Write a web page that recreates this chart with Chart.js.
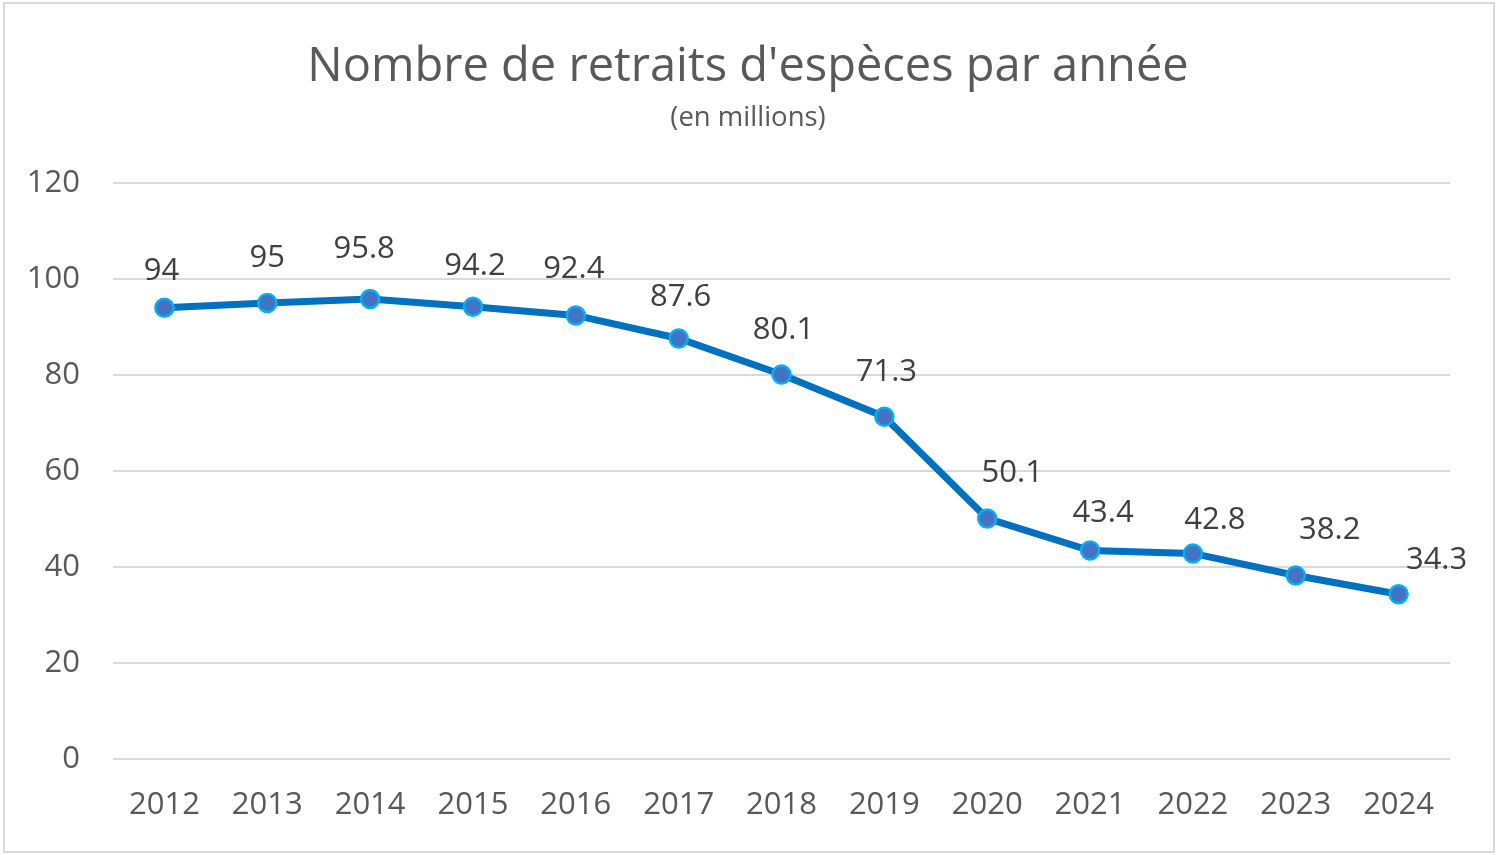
<!DOCTYPE html>
<html lang="fr">
<head>
<meta charset="utf-8">
<title>Nombre de retraits d'espèces par année</title>
<script src="https://cdn.jsdelivr.net/npm/chart.js@4.4.1/dist/chart.umd.min.js"></script>
<style>
  html, body { margin: 0; padding: 0; background: #fff; }
  #wrap { position: absolute; left: 0; top: 0; width: 1500px; height: 855px; }
</style>
</head>
<body>
<div id="wrap"><canvas id="retraitsChart" width="1500" height="855"></canvas></div>
<script>
// Data
const years = ['2012', '2013', '2014', '2015', '2016', '2017', '2018', '2019', '2020', '2021', '2022', '2023', '2024'];
const withdrawals = [94, 95, 95.8, 94.2, 92.4, 87.6, 80.1, 71.3, 50.1, 43.4, 42.8, 38.2, 34.3];
const yTicks = [0, 20, 40, 60, 80, 100, 120];

const titleText = "Nombre de retraits d'espèces par année";
const subtitleText = '(en millions)';

// label nudges (px) so value labels sit like the original
const labelNudgeX = [-3, 0, -6, 2, -2, 2, 2, 2, 25, 13, 22, 34, 38];
const labelNudgeY = [-37, -45, -50, -41, -46, -41, -44, -45, -45, -37, -33, -45, -34];

/* White background, thin frame, and title centred on the whole canvas */
const framePlugin = {
  id: 'frame',
  beforeDraw(chart) {
    const c = chart.ctx;
    c.save();
    c.fillStyle = '#ffffff';
    c.fillRect(0, 0, chart.width, chart.height);
    c.strokeStyle = '#d9d9d9';
    c.lineWidth = 2;
    c.strokeRect(4, 3, chart.width - 10, chart.height - 6);

    c.fillStyle = '#595959';
    c.textAlign = 'center';
    c.textBaseline = 'middle';
    c.font = '47px "Open Sans", sans-serif';
    c.fillText(titleText, 748, 68);
    c.font = '27.5px "Open Sans", sans-serif';
    c.fillText(subtitleText, 748, 118);
    c.restore();
  },
};

/* Value labels above points */
const valueLabels = {
  id: 'valueLabels',
  afterDatasetsDraw(chart) {
    const c = chart.ctx;
    const meta = chart.getDatasetMeta(0);
    c.save();
    c.font = '31px "Open Sans", sans-serif';
    c.fillStyle = '#404040';
    c.textAlign = 'center';
    c.textBaseline = 'middle';
    meta.data.forEach((pt, i) => {
      c.fillText(String(withdrawals[i]), pt.x + labelNudgeX[i], pt.y + labelNudgeY[i]);
    });
    c.restore();
  },
};

new Chart(document.getElementById('retraitsChart'), {
  type: 'line',
  data: {
    labels: years,
    datasets: [{
      label: 'Retraits',
      data: withdrawals,
      borderColor: '#0070C0',
      borderWidth: 7,
      tension: 0,
      pointRadius: 9,
      pointHoverRadius: 9,
      pointBackgroundColor: '#4472C4',
      pointBorderColor: '#00B0F0',
      pointBorderWidth: 2.5,
      fill: false,
    }],
  },
  options: {
    responsive: false,
    animation: false,
    devicePixelRatio: 1,
    layout: { padding: { top: 183, left: 0, right: 50, bottom: 11 } },
    plugins: {
      legend: { display: false },
      tooltip: { enabled: false },
      title: { display: false },
    },
    scales: {
      x: {
        offset: true,
        grid: { display: false },
        border: { display: false },
        ticks: {
          color: '#595959',
          font: { family: 'Open Sans', size: 31 },
          padding: 20,
          maxRotation: 0,
        },
      },
      y: {
        min: 0,
        max: 120,
        afterBuildTicks(axis) { axis.ticks = yTicks.map((v) => ({ value: v })); },
        afterFit(axis) { axis.width = 113; },
        grid: { color: '#d9d9d9', lineWidth: 2, drawTicks: false },
        border: { display: false },
        ticks: {
          color: '#595959',
          font: { family: 'Open Sans', size: 31 },
          padding: 33,
        },
      },
    },
  },
  plugins: [framePlugin, valueLabels],
});
</script>
</body>
</html>
